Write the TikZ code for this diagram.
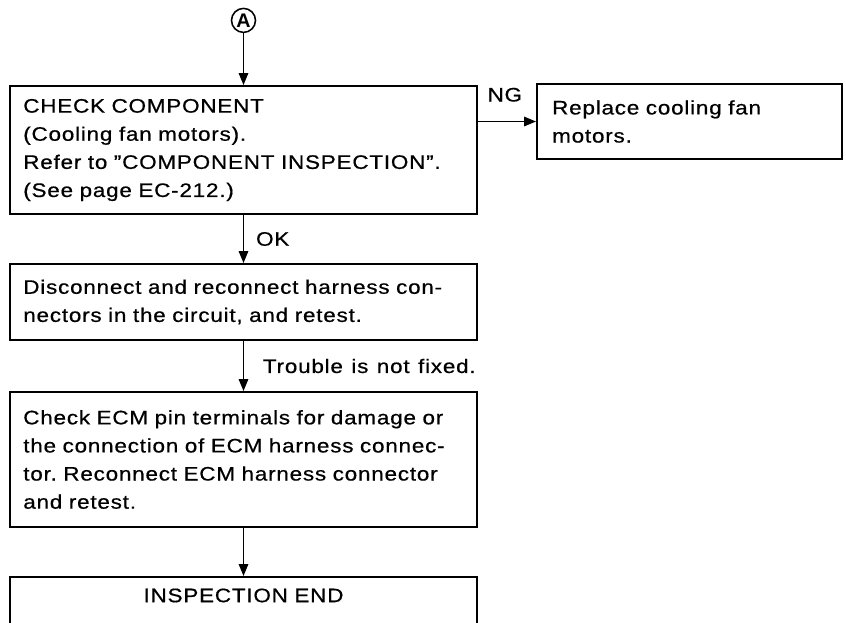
\documentclass[tikz,border=0pt]{standalone}
\usepackage{fontspec}
\setmainfont{Liberation Sans}[FakeStretch=1.15,LetterSpace=4,WordSpace=1.2,FakeBold=0.6]
\newfontfamily\plainsans{Liberation Sans}
\usetikzlibrary{arrows.meta,positioning}
\frenchspacing

\begin{document}
\begin{tikzpicture}[
      font=\fontsize{13.9pt}{20pt}\selectfont,
      stepbox/.style={draw,line width=1.4pt,minimum width=11.675cm,
        inner xsep=0.33cm,text width=11.01cm,align=left},
      flow/.style={-{Triangle[length=0.3cm,width=0.24cm]},line width=0.9pt},
      lbl/.style={inner sep=0pt}
    ]
      \useasboundingbox (0,0) rectangle (21.15,-15.55);
      \clip (0,0) rectangle (21.15,-15.55);
      \node[circle,draw,line width=1.1pt,inner sep=0pt,minimum size=0.6cm,
        font=\plainsans\fontsize{14pt}{14pt}\bfseries] (start) at (6.0875,-0.51) {A};
      \node[stepbox,minimum height=3.2cm] (check) at (6.0875,-3.75)
        {CHECK COMPONENT\\(Cooling fan motors).\\Refer to ''COMPONENT INSPECTION''.\\(See page EC-212.)};
      \node[stepbox,minimum width=7.625cm,minimum height=1.875cm,inner xsep=0.38cm,
        text width=6.865cm] (replace) at (17.2375,-3.0375)
        {Replace cooling fan\\motors.};
      \node[stepbox,minimum height=1.9cm] (reconn) at (6.0875,-7.55)
        {Disconnect and reconnect harness con-\\nectors in the circuit, and retest.};
      \node[stepbox,minimum height=3.375cm] (ecm) at (6.0875,-11.4875)
        {Check ECM pin terminals for damage or\\the connection of ECM harness connec-\\tor. Reconnect ECM harness connector\\and retest.};
      \node[stepbox,anchor=north,align=center,inner ysep=0.28cm,text height=0.35cm,
        text depth=1.5cm] (finish) at (6.0875,-14.4) {INSPECTION END};
      % connectors
      \draw[flow] (start) -- (check);
      \draw[flow] (check.east |- replace.west) --
        node[lbl,pos=0,anchor=base west,xshift=0.225cm,yshift=0.5cm] {NG} (replace.west);
      \draw[flow] (check) -- node[lbl,anchor=west,xshift=0.3cm] {OK} (reconn);
      \draw[flow] (reconn) -- node[lbl,anchor=west,xshift=0.47cm] {Trouble is not fixed.} (ecm);
      \draw[flow] (ecm) -- (finish);
    \end{tikzpicture}
\end{document}
